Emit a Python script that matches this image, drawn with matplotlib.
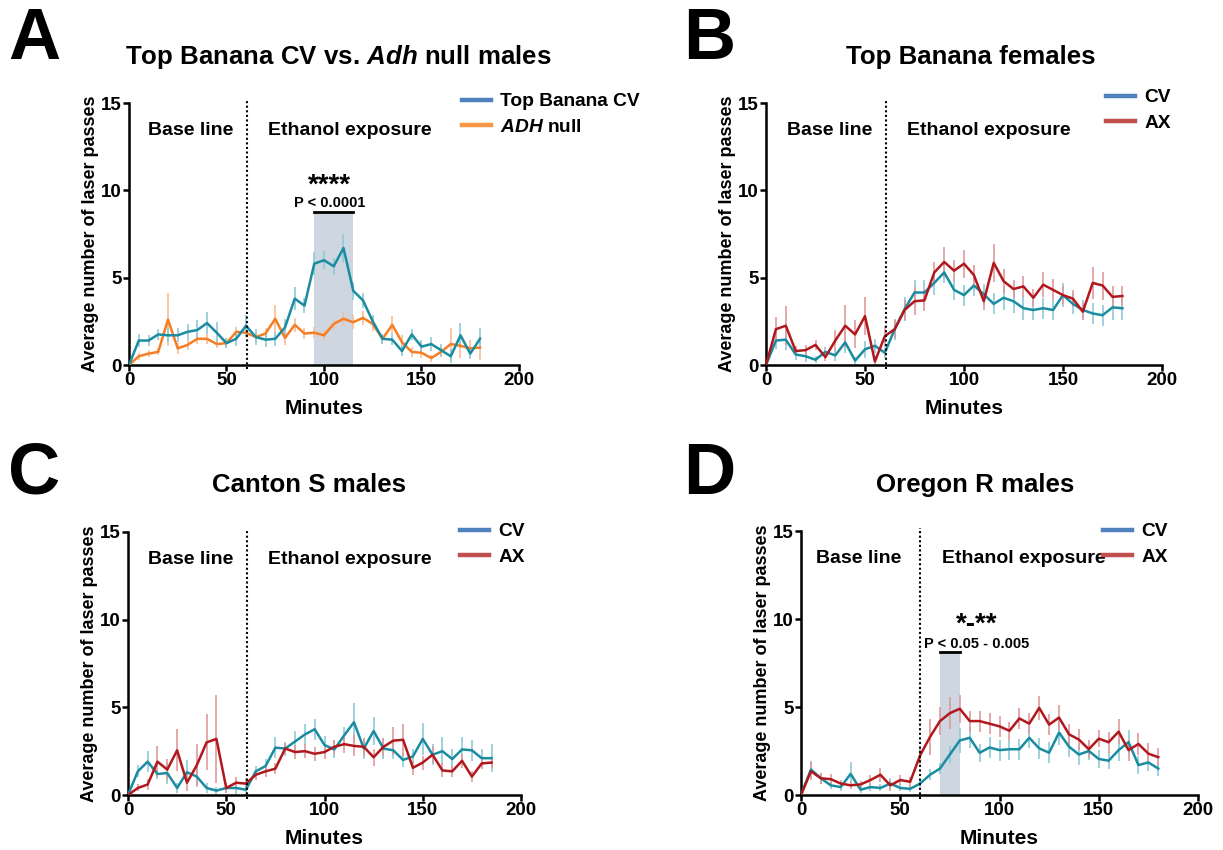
import matplotlib
matplotlib.use('Agg')
import matplotlib.pyplot as plt
from matplotlib.lines import Line2D

plt.rcParams['font.family'] = ['Liberation Sans', 'DejaVu Sans']
plt.rcParams['font.weight'] = 'bold'
plt.rcParams['mathtext.fontset'] = 'custom'
plt.rcParams['mathtext.it'] = 'Liberation Sans:italic:bold'
plt.rcParams['mathtext.rm'] = 'Liberation Sans:bold'
plt.rcParams['mathtext.bf'] = 'Liberation Sans:bold'

# ---------------- data ----------------
minutes_180 = list(range(0, 181, 5))
minutes_185 = list(range(0, 186, 5))
x_ticks = [0, 50, 100, 150, 200]
y_ticks = [0, 5, 10, 15]

A_cv = [0, 1.4, 1.4, 1.75, 1.7, 1.7, 1.9, 2.0, 2.4, 1.85, 1.25, 1.5, 2.25, 1.6, 1.45, 1.5, 2.15, 3.8, 3.4,
        5.8, 6.0, 5.65, 6.7, 4.25, 3.7, 2.5, 1.5, 1.45, 0.8, 1.75, 1.05, 1.2, 0.85, 0.5, 1.7, 0.65, 1.5]
A_cv_err = [0, .35, .3, .3, .4, .4, .45, .55, .65, .6, .3, .4, .6, .45, .4, .4, .5, .65, .45, .65, .5, .5,
            .8, .5, .45, .35, .3, .3, .3, .3, .4, .4, .35, .4, .7, .3, .6]
A_adh = [0, 0.5, 0.65, 0.75, 2.6, 0.95, 1.15, 1.5, 1.5, 1.2, 1.25, 1.9, 1.85, 1.6, 1.8, 2.65, 1.55, 2.3, 1.8,
         1.85, 1.7, 2.35, 2.65, 2.45, 2.7, 2.35, 1.5, 2.3, 1.3, 0.75, 0.7, 0.4, 0.75, 1.2, 1.1, 0.95, 1.0]
A_adh_err = [0, .2, .2, .2, 1.5, .3, .3, .3, .3, .25, .3, .3, .3, .3, .3, .8, .4, .4, .3, .3, .3, .3, .4, .4,
             .4, .4, .3, .5, .4, .3, .3, .2, .3, .9, .7, .5, .7]

B_cv = [0, 1.4, 1.45, 0.6, 0.5, 0.3, 0.75, 0.55, 1.3, 0.25, 0.9, 1.1, 0.7, 2.05, 3.2, 4.15, 4.15, 4.7, 5.3,
        4.3, 4.0, 4.55, 4.05, 3.5, 3.85, 3.65, 3.25, 3.15, 3.25, 3.15, 4.0, 3.5, 3.15, 2.95, 2.85, 3.3, 3.25]
B_cv_err = [0, .5, .6, .3, .3, .2, .3, .3, .6, .2, .5, .4, .3, .6, .7, .7, .7, .7, .6, .6, .6, .6, .6, .6,
            .7, .7, .7, .6, .6, .6, .7, .6, .6, .6, .6, .7, .7]
B_ax = [0, 2.05, 2.25, 0.8, 0.85, 1.15, 0.45, 1.4, 2.25, 1.75, 2.8, 0.2, 1.65, 2.05, 3.15, 3.65, 3.7, 5.3,
        5.9, 5.4, 5.8, 5.15, 3.65, 5.85, 4.8, 4.35, 4.5, 3.85, 4.6, 4.3, 4.0, 3.8, 3.05, 4.7, 4.55, 3.9, 3.95]
B_ax_err = [0, .7, 1.1, .3, .3, .3, .2, .6, 1.2, .8, 1.1, .3, .6, .5, .6, .8, .6, .6, .85, .6, .8, .6, .5,
            1.1, .7, .5, .6, .5, .7, .6, .5, .5, .5, .9, .8, .6, .6]

C_cv = [0, 1.35, 1.9, 1.2, 1.25, 0.4, 1.3, 1.05, 0.4, 0.25, 0.4, 0.4, 0.3, 1.35, 1.65, 2.7, 2.65, 3.05, 3.45,
        3.75, 2.85, 2.6, 3.4, 4.15, 2.65, 3.65, 2.65, 2.55, 2.0, 2.2, 3.2, 2.3, 2.5, 2.05, 2.6, 2.55, 2.1, 2.1]
C_cv_err = [0, .35, .6, .3, .6, .3, .7, .6, .3, .2, .3, .4, .3, .3, .4, .6, .4, .6, .6, .6, .5, .5, .5, 1.1,
            .6, .8, .6, .5, .4, .4, .9, .6, .8, .6, .7, .6, .5, .8]
C_ax = [0, 0.4, 0.6, 1.9, 1.45, 2.55, 0.7, 1.7, 3.0, 3.2, 0.4, 0.7, 0.65, 1.15, 1.35, 1.5, 2.65, 2.45, 2.5,
        2.35, 2.45, 2.75, 2.9, 2.8, 2.75, 2.15, 2.75, 3.1, 3.15, 1.55, 1.85, 2.3, 1.4, 1.35, 1.95, 1.05, 1.8, 1.85]
C_ax_err = [0, .2, .3, .9, .6, 1.2, .5, 1.2, 1.6, 2.5, .3, .3, .3, .3, .3, .3, .3, .4, .4, .4, .4, .4, .5,
            .6, .5, .5, .5, .8, .9, .4, .4, .5, .4, .3, .4, .3, .3, .3]

D_cv = [0, 1.45, 0.95, 0.55, 0.45, 1.2, 0.3, 0.45, 0.4, 0.65, 0.4, 0.35, 0.65, 1.15, 1.5, 2.3, 3.1, 3.25, 2.4,
        2.7, 2.55, 2.6, 2.6, 3.25, 2.65, 2.4, 3.55, 2.75, 2.3, 2.5, 2.05, 1.95, 2.55, 3.0, 1.7, 1.85, 1.5]
D_cv_err = [0, .5, .3, .2, .2, .7, .2, .2, .2, .3, .2, .2, .2, .3, .3, .5, .7, .6, .5, .6, .6, .6, .6, .6,
            .6, .6, .7, .6, .6, .5, .5, .5, .6, .7, .5, .5, .4]
D_ax = [0, 1.35, 0.95, 0.9, 0.65, 0.55, 0.6, 0.85, 1.15, 0.55, 0.85, 0.75, 2.25, 3.3, 4.2, 4.65, 4.9, 4.2,
        4.2, 4.05, 3.9, 3.65, 4.35, 4.05, 4.95, 4.0, 4.4, 3.45, 3.15, 2.6, 3.2, 3.0, 3.6, 2.55, 2.9, 2.35, 2.15]
D_ax_err = [0, .5, .3, .3, .2, .2, .2, .3, .4, .3, .3, .3, .5, 1.0, .8, .9, .8, .6, .6, .6, .6, .5, .6, .6,
            .7, .6, .7, .6, .6, .5, .5, .6, .7, .6, .6, .6, .5]

A_sig_window = (95, 115)
A_sig_level = 8.75
D_sig_window = (70, 80)
D_sig_level = 8.1

# ---------------- style ----------------
TEAL, TEAL_L = '#1A8CA0', '#8FCAD8'
RED, RED_L = '#B0181D', '#E09A9C'
ORANGE, ORANGE_L = '#F57E25', '#F9BE95'
LEG_BLUE, LEG_RED, LEG_ORANGE = '#4F81BD', '#C0504D', '#F79646'
SHADE = '#CDD6E1'

W, H = 1223, 850
fig = plt.figure(figsize=(W / 100, H / 100), dpi=100)


def px_axes(l, r, t, b):
    return fig.add_axes([l / W, 1 - b / H, (r - l) / W, (b - t) / H])


def style(ax):
    ax.set_xlim(0, 200)
    ax.set_ylim(0, 15)
    ax.set_xticks(x_ticks)
    ax.set_yticks(y_ticks)
    for s in ['top', 'right']:
        ax.spines[s].set_visible(False)
    for s in ['left', 'bottom']:
        ax.spines[s].set_linewidth(1.8)
    ax.tick_params(width=1.8, length=4, labelsize=13.5, pad=1)
    ax.set_xlabel('Minutes', fontsize=15, fontweight='bold', labelpad=7)
    ax.set_ylabel('Average number of laser passes', fontsize=13, fontweight='bold', labelpad=2)
    ax.patch.set_alpha(0)


def series(ax, x, ys, errs, cols, ecols):
    for y, e, ec in zip(ys, errs, ecols):
        ax.errorbar(x, y, yerr=e, fmt='none', ecolor=ec, elinewidth=1.2, capsize=0, zorder=2)
    for i, (y, c) in enumerate(zip(ys, cols)):
        ax.plot(x, y, color=c, lw=1.8, zorder=3 + i * 0.1)


def phases(ax, xline, xb, xe, yt=13.45):
    ax.axvline(xline, ymin=-0.015, ymax=1.01, color='black', ls=(0, (1, 1.2)), lw=1.5, clip_on=False, zorder=4)
    ax.text(xb, yt, 'Base line', ha='center', va='center', fontsize=14, fontweight='bold')
    ax.text(xe, yt, 'Ethanol exposure', ha='center', va='center', fontsize=14, fontweight='bold')


def legend(ax, labels, colors, xpx, ypx):
    handles = [Line2D([], [], color=c, lw=3.2) for c in colors]
    ax.legend(handles, labels, loc='upper left', bbox_to_anchor=(xpx / W, 1 - ypx / H),
              bbox_transform=fig.transFigure, frameon=False, fontsize=13.8, handlelength=1.5,
              handletextpad=0.5, borderpad=0, borderaxespad=0, labelspacing=0.4)


def sig(ax, window, level, ptxt, stars, xc):
    ax.fill_between(list(window), 0, level, color=SHADE, lw=0, zorder=1)
    ax.plot(list(window), [level, level], color='black', lw=2, zorder=4)
    ax.text(xc, level + 0.1, ptxt, ha='center', va='bottom', fontsize=10.5, fontweight='bold')
    ax.text(xc, level + 0.8, stars, ha='center', va='bottom', fontsize=20, fontweight='bold')


# ---- A ----
axA = px_axes(129, 519, 103, 365)
style(axA)
sig(axA, A_sig_window, A_sig_level, 'P < 0.0001', '****', 103)
series(axA, minutes_180, [A_adh, A_cv], [A_adh_err, A_cv_err], [ORANGE, TEAL], [ORANGE_L, TEAL_L])
phases(axA, 60.5, 31.5, 113)
legend(axA, ['Top Banana CV', r'$\mathit{ADH}$ null'], [LEG_BLUE, LEG_ORANGE], 462, 93)

# ---- B ----
axB = px_axes(766, 1162, 103, 365)
style(axB)
series(axB, minutes_180, [B_cv, B_ax], [B_cv_err, B_ax_err], [TEAL, RED], [TEAL_L, RED_L])
phases(axB, 60.5, 32, 112.5)
legend(axB, ['CV', 'AX'], [LEG_BLUE, LEG_RED], 1106, 89)

# ---- C ----
axC = px_axes(128, 521, 532, 795)
style(axC)
series(axC, minutes_185, [C_cv, C_ax], [C_cv_err, C_ax_err], [TEAL, RED], [TEAL_L, RED_L])
phases(axC, 60.5, 32, 113)
legend(axC, ['CV', 'AX'], [LEG_BLUE, LEG_RED], 460, 523)

# ---- D ----
axD = px_axes(801, 1198, 531, 795)
style(axD)
sig(axD, D_sig_window, D_sig_level, 'P < 0.05 - 0.005', '*-**', 88.5)
series(axD, minutes_180, [D_cv, D_ax], [D_cv_err, D_ax_err], [TEAL, RED], [TEAL_L, RED_L])
phases(axD, 60, 29, 112.5)
legend(axD, ['CV', 'AX'], [LEG_BLUE, LEG_RED], 1103, 523)

# ---- titles and panel letters ----
TFS = 18.6
fig.text(338 / W, 1 - 57 / H, r'Top Banana CV vs. $\mathit{Adh}$ null males', ha='center', va='center',
         fontsize=TFS, fontweight='bold')
fig.text(971 / W, 1 - 57 / H, 'Top Banana females', ha='center', va='center', fontsize=TFS, fontweight='bold')
fig.text(309 / W, 1 - 485 / H, 'Canton S males', ha='center', va='center', fontsize=TFS, fontweight='bold')
fig.text(975 / W, 1 - 485 / H, 'Oregon R males', ha='center', va='center', fontsize=TFS, fontweight='bold')
for letter, xp, yp in [('A', 8, 40), ('B', 683, 40), ('C', 8, 475), ('D', 683, 475)]:
    fig.text(xp / W, 1 - yp / H, letter, ha='left', va='center', fontsize=52, fontweight='bold')

fig.savefig('out.png', dpi=100)
